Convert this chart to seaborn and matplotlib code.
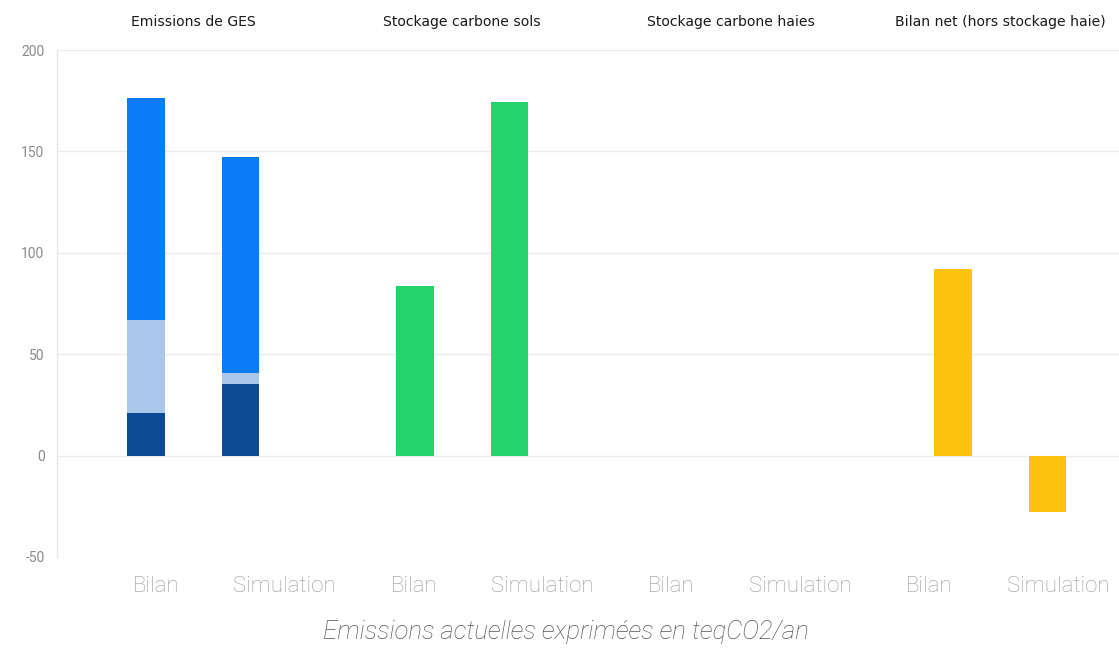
import numpy as np
import pandas as pd
import matplotlib
matplotlib.use("Agg")
import matplotlib.pyplot as plt
import matplotlib.transforms as mtransforms
import seaborn as sns

# --- data (teqCO2/an) ---
groups = ["Emissions de GES", "Stockage carbone sols",
          "Stockage carbone haies", "Bilan net (hors stockage haie)"]
scenarios = ["Bilan", "Simulation"]

ges_dark = [21.0, 35.5]     # bottom segment
ges_light = [46.0, 5.0]     # middle segment
ges_main = [109.5, 106.5]   # top segment
stock_sols = [83.5, 174.5]
stock_haies = [0.0, 0.0]
bilan_net = [92.0, -28.0]

yticks = [-50, 0, 50, 100, 150, 200]
xlabel = "Emissions actuelles exprimées en teqCO2/an"

# --- colours ---
c_dark = "#0d4a95"
c_light = "#a9c8e9"
c_main = "#0b7cf6"
c_green = "#24d46b"
c_yellow = "#fdc30f"

sns.set_theme(style="white")
plt.rcParams["font.family"] = ["Roboto", "DejaVu Sans"]

fig = plt.figure(figsize=(11.19, 6.5), dpi=100)
ax = fig.add_axes([57 / 1119, 93 / 650, 1062 / 1119, 507 / 650])


def frame(group, values):
    return pd.DataFrame({"groupe": [group] * len(scenarios),
                         "scenario": scenarios,
                         "valeur": values})


def bars(df, color):
    sns.barplot(data=df, x="groupe", y="valeur", hue="scenario",
                order=groups, hue_order=scenarios,
                palette={s: color for s in scenarios},
                width=0.702, gap=0.604, dodge=True, errorbar=None,
                saturation=1, linewidth=0, legend=False, ax=ax)


# stacked emissions: draw cumulative heights from the tallest down
dark = np.array(ges_dark)
light = dark + np.array(ges_light)
total = light + np.array(ges_main)
bars(frame(groups[0], total), c_main)
bars(frame(groups[0], light), c_light)
bars(frame(groups[0], dark), c_dark)

bars(frame(groups[1], stock_sols), c_green)
bars(frame(groups[2], stock_haies), c_green)
bars(frame(groups[3], bilan_net), c_yellow)

# --- axes styling ---
ax.set_ylim(-50, 200)
ax.set_xlim((57 - 193.3) / 269, (1119 - 193.3) / 269)
ax.set_yticks(yticks)
ax.set_yticklabels([str(v) for v in yticks], fontsize=10, color="#8a8a8a")
ax.tick_params(axis="y", length=5, color="#e6e6e6", pad=4)

ax.set_xticks(np.linspace(-0.139, 3.215, 8))
ax.set_xticklabels(scenarios * len(groups), fontsize=16,
                   fontweight="light", color="#9a9a9a")
ax.tick_params(axis="x", length=0, pad=14)
ax.set_xlabel("")
ax.set_ylabel("")

ax.yaxis.grid(True, color="#ececec", linewidth=1)
ax.xaxis.grid(False)
ax.set_axisbelow(True)
for side in ("top", "right", "bottom"):
    ax.spines[side].set_visible(False)
ax.spines["left"].set_color("#e6e6e6")
ax.spines["left"].set_linewidth(1)

# group titles above the plot
trans = mtransforms.blended_transform_factory(ax.transData, ax.transAxes)
for i, g in enumerate(groups):
    ax.text(i, 1.055, g, transform=trans, ha="center", va="center",
            fontsize=10.1, color="#1a1a1a", family="DejaVu Sans")

fig.text(566 / 1119, 1 - 632 / 650, xlabel, ha="center", va="center",
         fontsize=18.5, fontstyle="italic", fontweight="light", color="#555555")

fig.savefig("out.png", dpi=100, facecolor="white")
